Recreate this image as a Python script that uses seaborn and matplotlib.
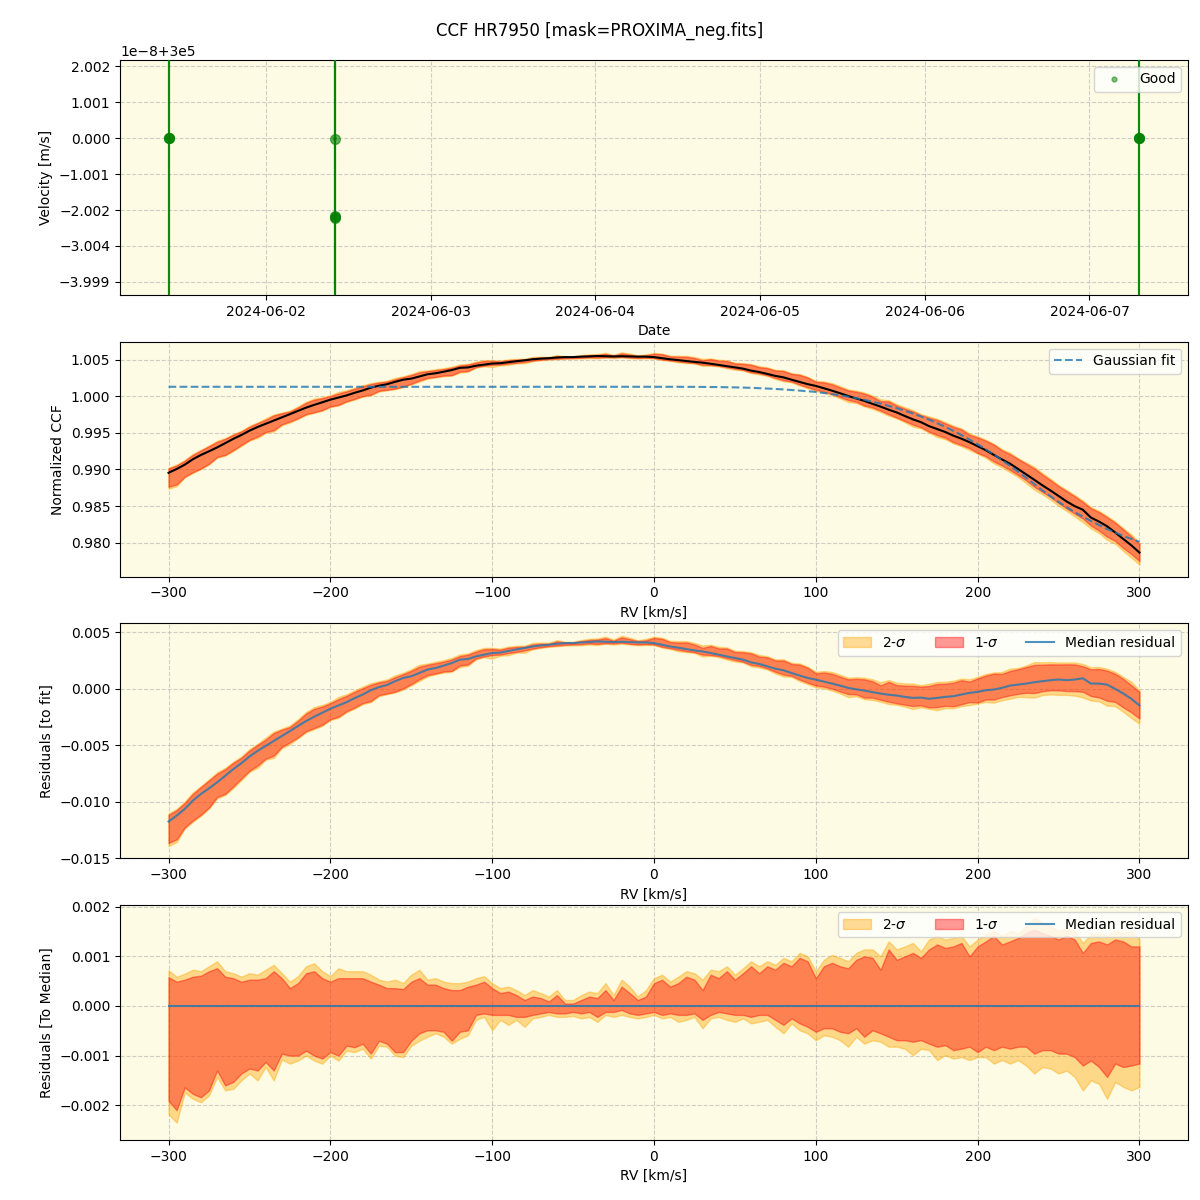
import numpy as np
import pandas as pd
import matplotlib
matplotlib.use("Agg")
import matplotlib.pyplot as plt
import seaborn as sns
from matplotlib.patches import Patch
from matplotlib.lines import Line2D

# ---------------- data ----------------
# top panel: observations
obs_time = ["2024-06-01 09:50", "2024-06-01 09:50", "2024-06-01 09:50",
            "2024-06-02 10:04", "2024-06-02 10:04", "2024-06-02 10:04", "2024-06-02 10:04",
            "2024-06-07 07:17", "2024-06-07 07:17", "2024-06-07 07:17"]
vel_offset_1e8 = [0.0, 0.0, 0.0, -0.02, -2.17, -2.20, -2.22, 0.0, 0.0, 0.0]  # units of 1e-8 m/s
vel_base = 3e5
vel_err = [1.0] * 10

# RV grid (km/s)
rv = np.arange(-300, 305, 5)

# Gaussian fit (normalized CCF)
gauss_fit = [1.0013] * 60 + [
    1.00130, 1.00130, 1.00130, 1.00130, 1.00129, 1.00129, 1.00128, 1.00127, 1.00126, 1.00124,
    1.00122, 1.00119, 1.00116, 1.00111, 1.00106, 1.00100, 1.00094, 1.00086, 1.00078, 1.00069,
    1.00060, 1.00045, 1.00030, 1.00013, 0.99995, 0.99974, 0.99952, 0.99926, 0.99900, 0.99869,
    0.99838, 0.99802, 0.99765, 0.99723, 0.99680, 0.99632, 0.99583, 0.99527, 0.99470, 0.99408,
    0.99345, 0.99275, 0.99205, 0.99128, 0.99050, 0.98968, 0.98885, 0.98800, 0.98715, 0.98635,
    0.98555, 0.98485, 0.98415, 0.98355, 0.98295, 0.98240, 0.98185, 0.98138, 0.98090, 0.98050,
    0.98010]

# median residual to fit (units of 1e-3)
median_resid = [
    -11.76, -11.24, -10.65, -9.91, -9.32, -8.82, -8.29, -7.71, -7.12, -6.59,
    -6.00, -5.50, -5.06, -4.62, -4.18, -3.74, -3.29, -2.85, -2.47, -2.12,
    -1.76, -1.47, -1.18, -0.82, -0.50, -0.12, 0.15, 0.35, 0.68, 0.97,
    1.12, 1.41, 1.71, 1.85, 2.06, 2.29, 2.59, 2.65, 2.88, 3.03,
    3.18, 3.22, 3.36, 3.50, 3.62, 3.76, 3.85, 3.91, 4.00, 4.06,
    4.06, 4.12, 4.15, 4.21, 4.18, 4.15, 4.18, 4.15, 4.12, 4.12,
    4.06, 3.91, 3.76, 3.65, 3.53, 3.41, 3.32, 3.18, 3.03, 2.88,
    2.74, 2.59, 2.35, 2.21, 2.00, 1.79, 1.65, 1.41, 1.18, 0.97,
    0.82, 0.65, 0.47, 0.29, 0.09, -0.04, -0.15, -0.29, -0.41, -0.52,
    -0.59, -0.71, -0.80, -0.77, -0.88, -0.80, -0.71, -0.65, -0.50, -0.35,
    -0.27, -0.12, -0.06, 0.09, 0.29, 0.38, 0.47, 0.59, 0.68, 0.77,
    0.83, 0.77, 0.83, 0.94, 0.47, 0.47, 0.38, 0.00, -0.41, -0.88,
    -1.47]

# percentile envelopes relative to the median (units of 1e-3)
hi2 = [
    0.72, 0.59, 0.65, 0.73, 0.70, 0.80, 0.90, 0.70, 0.66, 0.59,
    0.66, 0.63, 0.73, 0.83, 0.66, 0.49, 0.60, 0.80, 0.86, 0.70,
    0.60, 0.76, 0.70, 0.70, 0.70, 0.63, 0.53, 0.49, 0.53, 0.46,
    0.63, 0.73, 0.53, 0.56, 0.49, 0.46, 0.46, 0.49, 0.56, 0.60,
    0.46, 0.36, 0.39, 0.32, 0.22, 0.32, 0.26, 0.19, 0.32, 0.12,
    0.12, 0.22, 0.29, 0.26, 0.46, 0.22, 0.53, 0.39, 0.19, 0.32,
    0.56, 0.63, 0.49, 0.59, 0.70, 0.66, 0.53, 0.73, 0.70, 0.80,
    0.63, 0.76, 0.90, 0.80, 0.90, 0.83, 0.97, 0.90, 1.07, 1.00,
    0.70, 0.93, 1.03, 0.97, 0.90, 1.07, 1.14, 1.14, 1.00, 1.30,
    1.14, 1.20, 1.27, 1.10, 1.34, 1.41, 1.34, 1.37, 1.41, 1.20,
    1.34, 1.44, 1.51, 1.41, 1.51, 1.47, 1.61, 1.78, 1.68, 1.61,
    1.51, 1.57, 1.51, 1.27, 1.44, 1.47, 1.41, 1.51, 1.47, 1.51,
    1.34]
hi1 = [
    0.58, 0.49, 0.53, 0.59, 0.61, 0.70, 0.76, 0.59, 0.56, 0.49,
    0.53, 0.53, 0.56, 0.70, 0.56, 0.36, 0.46, 0.66, 0.70, 0.56,
    0.49, 0.56, 0.56, 0.56, 0.56, 0.49, 0.43, 0.36, 0.36, 0.34,
    0.49, 0.56, 0.43, 0.43, 0.36, 0.32, 0.32, 0.39, 0.43, 0.49,
    0.36, 0.26, 0.29, 0.22, 0.12, 0.19, 0.16, 0.09, 0.22, 0.05,
    0.05, 0.12, 0.19, 0.16, 0.32, 0.12, 0.39, 0.26, 0.12, 0.19,
    0.46, 0.53, 0.39, 0.46, 0.59, 0.53, 0.32, 0.63, 0.56, 0.70,
    0.53, 0.66, 0.80, 0.66, 0.80, 0.73, 0.87, 0.80, 0.97, 0.90,
    0.56, 0.80, 0.87, 0.80, 0.76, 0.93, 1.00, 0.97, 0.73, 1.14,
    0.93, 1.00, 1.07, 0.97, 1.14, 1.24, 1.17, 1.20, 1.27, 1.00,
    1.20, 1.30, 1.41, 1.24, 1.30, 1.37, 1.47, 1.54, 1.47, 1.41,
    1.34, 1.41, 1.34, 1.07, 1.27, 1.30, 1.24, 1.34, 1.30, 1.20,
    1.20]
lo1 = [
    -1.91, -2.10, -1.64, -1.77, -1.84, -1.70, -1.30, -1.60, -1.53, -1.36,
    -1.26, -1.30, -1.13, -1.30, -0.96, -1.00, -1.00, -0.90, -1.00, -1.06,
    -0.93, -1.00, -0.80, -0.83, -0.76, -0.96, -0.70, -0.76, -0.93, -0.93,
    -0.70, -0.55, -0.49, -0.49, -0.52, -0.70, -0.52, -0.49, -0.18, -0.15,
    -0.18, -0.18, -0.18, -0.22, -0.22, -0.18, -0.15, -0.12, -0.15, -0.15,
    -0.12, -0.15, -0.12, -0.22, -0.12, -0.12, -0.08, -0.15, -0.18, -0.15,
    -0.12, -0.18, -0.15, -0.18, -0.18, -0.15, -0.28, -0.18, -0.12, -0.15,
    -0.18, -0.18, -0.22, -0.18, -0.18, -0.28, -0.38, -0.25, -0.35, -0.42,
    -0.52, -0.45, -0.45, -0.52, -0.55, -0.45, -0.62, -0.49, -0.55, -0.62,
    -0.69, -0.69, -0.72, -0.69, -0.76, -0.82, -0.79, -0.89, -0.86, -0.82,
    -0.93, -0.82, -0.89, -0.82, -0.86, -0.82, -0.82, -0.96, -0.89, -0.89,
    -0.96, -0.96, -1.03, -1.20, -1.10, -1.23, -1.43, -1.16, -1.23, -1.20,
    -1.16]
lo2 = [
    -2.18, -2.35, -1.74, -1.87, -1.94, -1.80, -1.43, -1.70, -1.67, -1.50,
    -1.36, -1.50, -1.23, -1.50, -1.08, -1.16, -1.10, -1.00, -1.10, -1.16,
    -1.00, -1.10, -0.90, -0.93, -0.86, -1.06, -0.80, -0.82, -1.00, -1.03,
    -0.80, -0.70, -0.62, -0.55, -0.62, -0.76, -0.66, -0.59, -0.28, -0.22,
    -0.49, -0.28, -0.38, -0.28, -0.42, -0.25, -0.22, -0.18, -0.22, -0.22,
    -0.20, -0.25, -0.22, -0.32, -0.18, -0.22, -0.18, -0.22, -0.25, -0.22,
    -0.18, -0.25, -0.22, -0.32, -0.28, -0.22, -0.45, -0.25, -0.22, -0.28,
    -0.32, -0.25, -0.35, -0.32, -0.28, -0.42, -0.55, -0.35, -0.49, -0.55,
    -0.69, -0.59, -0.62, -0.69, -0.82, -0.62, -0.76, -0.69, -0.72, -0.82,
    -0.82, -0.86, -0.99, -0.86, -0.89, -1.09, -0.99, -1.06, -1.03, -1.09,
    -1.03, -1.03, -1.16, -1.09, -1.16, -1.09, -1.20, -1.36, -1.23, -1.26,
    -1.36, -1.30, -1.43, -1.70, -1.50, -1.57, -1.87, -1.53, -1.63, -1.70,
    -1.63]

# ---------------- derived ----------------
gauss = np.array(gauss_fit)
resid = np.array(median_resid) * 1e-3
H2, H1 = np.array(hi2) * 1e-3, np.array(hi1) * 1e-3
L1, L2 = np.array(lo1) * 1e-3, np.array(lo2) * 1e-3
median_ccf = gauss + resid

times = pd.to_datetime(obs_time).to_pydatetime()
vel = vel_base + np.array(vel_offset_1e8) * 1e-8

# ---------------- plot ----------------
BG = "#fdfbe3"
fig, axes = plt.subplots(4, 1, figsize=(12, 12), dpi=100)
fig.subplots_adjust(left=0.1, right=0.99, top=0.95, bottom=0.05, hspace=0.2)
fig.suptitle("CCF HR7950 [mask=PROXIMA_neg.fits]", fontsize=12, y=0.982)

for ax in axes:
    ax.set_facecolor(BG)
    ax.grid(True, linestyle="--", color="#b0b0b0", alpha=0.6)
    ax.set_axisbelow(True)

# Panel 1
ax = axes[0]
ax.errorbar(times, vel, yerr=vel_err, fmt="o", color="green", ecolor="green",
            ms=7, elinewidth=1.5, alpha=0.6, zorder=3)
sns.scatterplot(x=times, y=vel, ax=ax, color="green", alpha=0.5, s=12,
                edgecolor="none", zorder=4, legend=False)
ax.set_ylim(vel_base - 4.36e-8, vel_base + 2.17e-8)
ax.set_xlabel("Date")
ax.set_ylabel("Velocity [m/s]")
ax.legend(handles=[Line2D([], [], ls="none", marker="o", ms=3.5, color="green",
                          alpha=0.5, label="Good")], loc="upper right")

# Panel 2
ax = axes[1]
ax.fill_between(rv, median_ccf + L2, median_ccf + H2, color="orange", alpha=0.4)
ax.fill_between(rv, median_ccf + L1, median_ccf + H1, color="red", alpha=0.4)
sns.lineplot(x=rv, y=median_ccf, ax=ax, color="black", lw=1.5)
sns.lineplot(x=rv, y=gauss, ax=ax, color="C0", linestyle="--", lw=1.5, alpha=0.8)
ax.set_ylim(0.97536, 1.00746)
ax.set_xlabel("RV [km/s]")
ax.set_ylabel("Normalized CCF")
ax.legend(handles=[Line2D([], [], color="C0", ls="--", lw=1.5, alpha=0.8,
                          label="Gaussian fit")], loc="upper right")

band_handles = [Patch(facecolor="orange", edgecolor="orange", alpha=0.4, label="2-$\\sigma$"),
                Patch(facecolor="red", edgecolor="red", alpha=0.4, label="1-$\\sigma$"),
                Line2D([], [], color="C0", lw=1.5, alpha=0.8, label="Median residual")]

# Panel 3
ax = axes[2]
ax.fill_between(rv, resid + L2, resid + H2, color="orange", alpha=0.4)
ax.fill_between(rv, resid + L1, resid + H1, color="red", alpha=0.4)
sns.lineplot(x=rv, y=resid, ax=ax, color="C0", lw=1.5, alpha=0.8)
ax.set_ylim(-0.01502, 0.0058)
ax.set_xlabel("RV [km/s]")
ax.set_ylabel("Residuals [to fit]")
ax.legend(handles=band_handles, loc="upper right", ncol=3)

# Panel 4
ax = axes[3]
ax.fill_between(rv, L2, H2, color="orange", alpha=0.4)
ax.fill_between(rv, L1, H1, color="red", alpha=0.4)
sns.lineplot(x=rv, y=np.zeros_like(resid), ax=ax, color="C0", lw=1.5, alpha=0.8)
ax.set_ylim(-0.0027, 0.00203)
ax.set_xlabel("RV [km/s]")
ax.set_ylabel("Residuals [To Median]")
ax.legend(handles=band_handles, loc="upper right", ncol=3)

for ax in axes[1:]:
    ax.set_xlim(-330, 330)

fig.savefig("out.png", dpi=100)
